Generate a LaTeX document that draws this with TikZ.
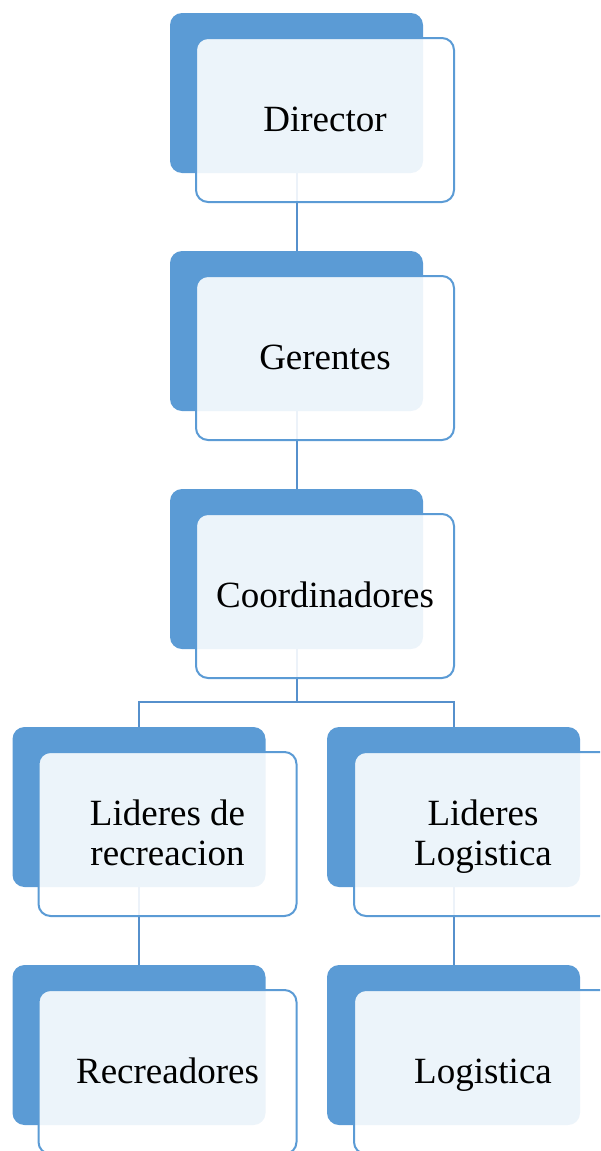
\documentclass[tikz,border=0pt]{standalone}
\usepackage{fontspec}
\setmainfont{Liberation Serif}
\definecolor{acc}{HTML}{5B9BD5}
\definecolor{conn}{HTML}{5690CC}
\newcommand{\tstrut}{\rule[-9pt]{0pt}{40pt}}
\tikzset{
  backbox/.style={fill=acc, rounded corners=12pt, minimum width=253pt, minimum height=160pt, inner sep=0pt, outer sep=0pt},
  frontbox/.style={draw=acc, line width=2pt, fill=white, fill opacity=0.89, text opacity=1, rounded corners=12pt, minimum width=258pt, minimum height=164pt, inner sep=0pt, outer sep=0pt, align=center, font=\fontsize{37}{40}\selectfont, text=black},
  link/.style={draw=conn, line width=2pt}
}
\begin{document}
\begin{tikzpicture}[x=1pt,y=-1pt]
\useasboundingbox (0,0) rectangle (600,1151);
\clip (0,0) rectangle (600,1151);
% back boxes (positions)
\node[backbox] (b1) at (296.5,93) {};
\node[backbox] (b2) at (296.5,331) {};
\node[backbox] (b3) at (296.5,569) {};
\node[backbox] (b4) at (139,807) {};
\node[backbox] (b5) at (453.5,807) {};
\node[backbox] (b6) at (139,1045) {};
\node[backbox] (b7) at (453.5,1045) {};
% connectors
\coordinate (j) at (296.5,702);
\draw[link] (b1.south) -- (b2.north);
\draw[link] (b2.south) -- (b3.north);
\draw[link] (b3.south) -- (j) -| (b4.north);
\draw[link] (j) -| (b5.north);
\draw[link] (b4.south) -- (b6.north);
\draw[link] (b5.south) -- (b7.north);
% front boxes
\node[frontbox] (f1) at (325,120) {\tstrut Director};
\node[frontbox] (f2) at (325,358) {\tstrut Gerentes};
\node[frontbox] (f3) at (325,596) {\tstrut Coordinadores};
\node[frontbox] (f4) at (167.5,834) {\tstrut Lideres de\\\tstrut recreacion};
\node[frontbox] (f5) at (483,834) {\tstrut Lideres\\\tstrut Logistica};
\node[frontbox] (f6) at (167.5,1072) {\tstrut Recreadores};
\node[frontbox] (f7) at (483,1072) {\tstrut Logistica};
\end{tikzpicture}
\end{document}
